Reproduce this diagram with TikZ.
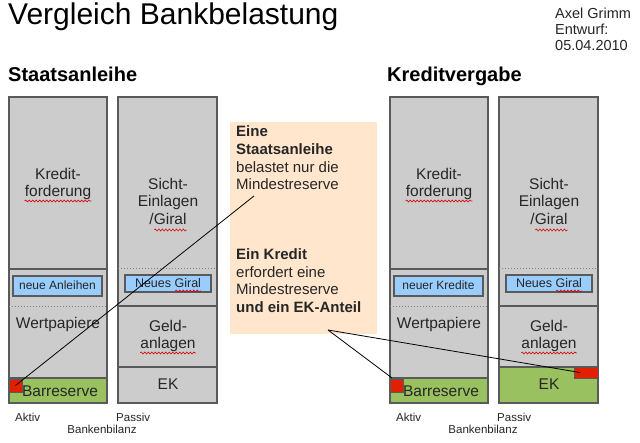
\documentclass[tikz,border=0pt]{standalone}
\usepackage{fontspec}
\setmainfont{Liberation Sans}
\usetikzlibrary{decorations.pathmorphing}
\definecolor{boxgray}{HTML}{CCCCCC}
\definecolor{bordergray}{HTML}{5A5A5A}
\definecolor{blueface}{HTML}{99CCFF}
\definecolor{greenface}{HTML}{99C160}
\definecolor{redface}{HTML}{E02000}
\definecolor{peach}{HTML}{FFE6CC}
\tikzset{
  colbox/.style={draw=bordergray, fill=boxgray, line width=1.3},
  greenbox/.style={draw=bordergray, fill=greenface, line width=1.3},
  divider/.style={draw=bordergray, line width=1.3},
  dotline/.style={draw=gray, line width=1, dotted},
  bluebox/.style={draw=bordergray, fill=blueface, line width=1.3},
  redsq/.style={draw=bordergray, fill=redface, line width=0.8, inner sep=0, outer sep=0},
  lbl/.style={font=\fontsize{15.5}{17}\selectfont, text=black!85, inner sep=0, anchor=base},
  small/.style={font=\fontsize{11.5}{13}\selectfont, text=black!85, inner sep=0, anchor=base},
  smalll/.style={font=\fontsize{11.5}{13}\selectfont, text=black!85, inner sep=0, anchor=base west},
  note/.style={font=\fontsize{15}{17}\selectfont, text=black!85, inner sep=0, anchor=base west},
  auth/.style={font=\fontsize{14.5}{16}\selectfont, text=black!85, inner sep=0, anchor=base west},
  squig/.style={draw=red!85!black, line width=0.6, decorate, decoration={snake, segment length=3.5, amplitude=1}},
  conn/.style={draw=black, line width=0.8},
}
\begin{document}
\begin{tikzpicture}[x=1pt,y=-1pt]
\useasboundingbox[fill=white] (0,0) rectangle (640,443);
% titles
\node[anchor=base west, inner sep=0, font=\fontsize{30}{34}\selectfont] (title) at (8,25) {Vergleich Bankbelastung};
\node[anchor=base west, inner sep=0, font=\fontsize{20}{24}\selectfont\bfseries] (tl) at (8,82) {Staatsanleihe};
\node[anchor=base west, inner sep=0, font=\fontsize{20}{24}\selectfont\bfseries] (tr) at (387,82) {Kreditvergabe};
\node[auth] (au1) at (555,19) {Axel Grimm};
\node[auth] (au2) at (555,35) {Entwurf:};
\node[auth] (au3) at (555,51) {05.04.2010};

% ===== two panels
\foreach \ox/\pn in {0/L,381/R}{
\begin{scope}[xshift=\ox]
  % Aktiv column
  \draw[colbox] (9,97) rectangle (107,403);
  \draw[divider] (9,269) -- (107,269);
  \draw[dotline] (9,307) -- (107,307);
  \draw[greenbox] (9,378) rectangle (107,403);
  % Passiv column
  \draw[colbox] (118,97) rectangle (217,403);
  \draw[dotline] (118,269) -- (217,269);
  \draw[divider] (118,306) -- (217,306);
  \draw[divider] (118,367) -- (217,367);
  \draw[bluebox] (125,275) rectangle (211,292);
  % texts Aktiv
  \node[lbl] (kr\pn) at (58,180) {Kredit-};
  \node[lbl] (fo\pn) at (58,197) {forderung};
  \draw[squig] ([yshift=-4]fo\pn.base west) -- ([yshift=-4]fo\pn.base east);
  \node[lbl] (wp\pn) at (58,329) {Wertpapiere};
  \node[lbl] (br\pn) at (60,397) {Barreserve};
  % texts Passiv
  \node[lbl] (si\pn) at (168,190) {Sicht-};
  \node[lbl] (ei\pn) at (168,207) {Einlagen};
  \node[lbl] (gi\pn) at (168,225) {/Giral};
  \draw[squig] ([xshift=5,yshift=-5]gi\pn.base west) -- ([yshift=-5]gi\pn.base east);
  \node[lbl] (gd\pn) at (168,332) {Geld-};
  \node[lbl] (an\pn) at (168,349) {anlagen};
  \draw[squig] ([yshift=-4]an\pn.base west) -- ([yshift=-4]an\pn.base east);
  \node[lbl] (ek\pn) at (168,390) {EK};
  \node[lbl, font=\fontsize{12.5}{14}\selectfont] (ng\pn) at (168,288) {Neues Giral};
  \draw[squig] ([xshift=-26,yshift=-3]ng\pn.base east) -- ([yshift=-3]ng\pn.base east);
  % labels under
  \node[smalll] (ak\pn) at (15,422) {Aktiv};
  \node[smalll] (pa\pn) at (116,422) {Passiv};
  \node[small] (bb\pn) at (102,434) {Bankenbilanz};
\end{scope}
}
% blue boxes Aktiv
\draw[bluebox] (13,276) rectangle (102,296);
\node[lbl, font=\fontsize{12}{14}\selectfont] (na) at (57.5,290) {neue Anleihen};
\draw[bluebox] (394,276) rectangle (483,296);
\node[lbl, font=\fontsize{12}{14}\selectfont] (nk) at (438.5,290) {neuer Kredite};

% green EK for right Passiv
\draw[greenbox] (499,367) rectangle (598,403);
\node[lbl] (ekR2) at (549,390) {EK};

% red squares
\node[redsq, minimum width=13, minimum height=13] (ra) at (15.5,385.5) {};
\node[redsq, minimum width=13, minimum height=13] (rc) at (396.5,385.5) {};
\node[redsq, minimum width=24, minimum height=11] (rd) at (586,372.5) {};

% orange note box
\node[fill=peach, minimum width=147, minimum height=212, anchor=north west, inner sep=0] (nb) at (230,122) {};
\node[note, font=\fontsize{15}{17}\selectfont\bfseries] (n1) at (236,137) {Eine};
\node[note, font=\fontsize{15}{17}\selectfont\bfseries] (n2) at (236,155) {Staatsanleihe};
\node[note] (n3) at (236,172.5) {belastet nur die};
\node[note] (n4) at (236,190) {Mindestreserve};
\node[note, font=\fontsize{15}{17}\selectfont\bfseries] (n5) at (236,260) {Ein Kredit};
\node[note] (n6) at (236,277.5) {erfordert eine};
\node[note] (n7) at (236,295) {Mindestreserve};
\node[note, font=\fontsize{15}{17}\selectfont\bfseries] (n8) at (236,313) {und ein EK-Anteil};

% connectors
\coordinate (c1) at (254,196);
\coordinate (c2) at (328,330);
\draw[conn] (ra.center) -- (c1);
\draw[conn] (c2) -- ([xshift=2,yshift=1]rc.north west);
\draw[conn] (c2) -- ([xshift=-6]rd.center);
\end{tikzpicture}
\end{document}
